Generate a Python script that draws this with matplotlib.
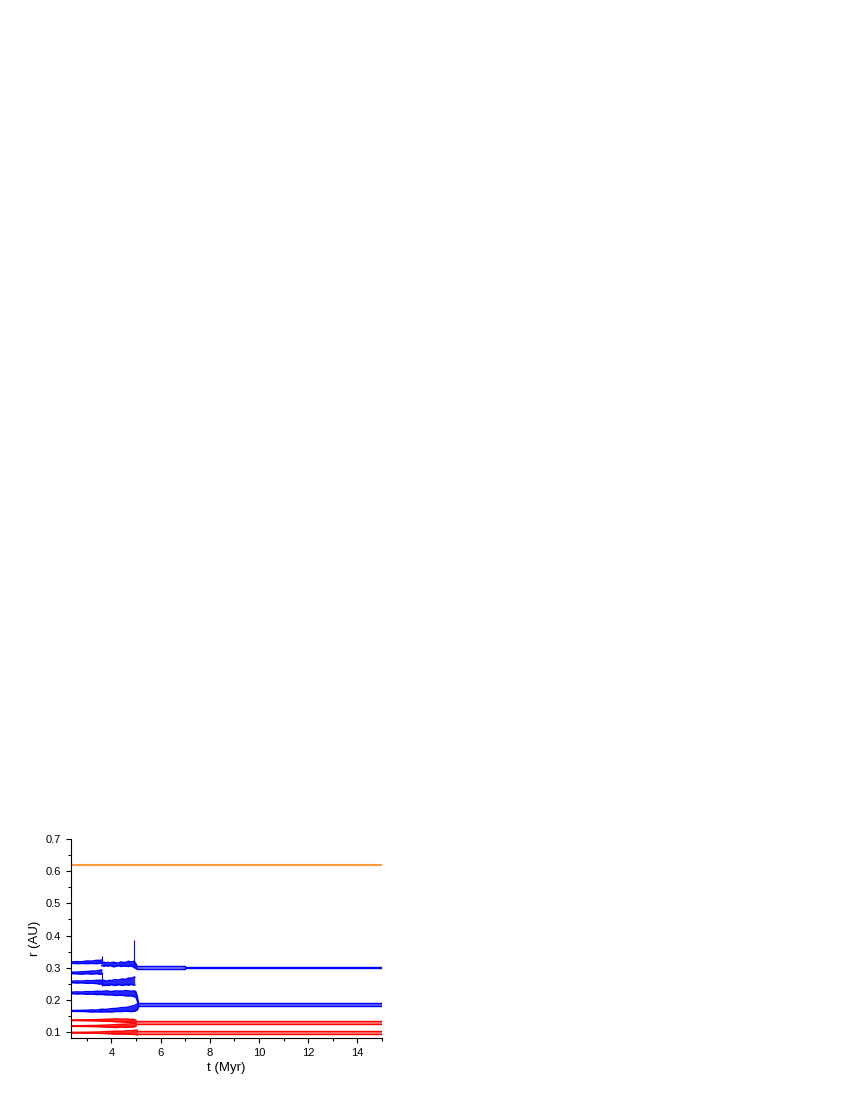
import matplotlib
matplotlib.use("Agg")
from matplotlib import pyplot as plt
from matplotlib.ticker import MultipleLocator

plt.rcParams['font.family'] = ['Liberation Sans', 'DejaVu Sans']

# orbit bands: times (Myr), centre radius (AU), half width of the band (AU)
orange_t = [2.35, 15.0]
orange_r = [0.621, 0.621]
orange_w = [0.001, 0.001]

blue1_t = [2.35, 2.6, 2.8, 3.0, 3.2, 3.4, 3.5, 3.61]
blue1_r = [0.316, 0.316, 0.316, 0.317, 0.317, 0.318, 0.318, 0.319]
blue1_w = [0.002, 0.003, 0.0025, 0.004, 0.0035, 0.005, 0.0045, 0.005]

blue1b_t = [3.61, 3.7, 3.8, 3.85, 3.9, 4.0, 4.1, 4.2, 4.3, 4.4, 4.5, 4.6,
            4.7, 4.8, 4.88, 4.93, 5.0, 5.05]
blue1b_r = [0.312, 0.311, 0.311, 0.311, 0.311, 0.311, 0.310, 0.310, 0.311,
            0.311, 0.311, 0.311, 0.312, 0.312, 0.311, 0.311, 0.305, 0.300]
blue1b_w = [0.005, 0.006, 0.004, 0.006, 0.004, 0.005, 0.007, 0.005, 0.004,
            0.007, 0.005, 0.006, 0.008, 0.006, 0.008, 0.009, 0.007, 0.004]

blue2_t = [2.35, 2.6, 2.8, 3.0, 3.2, 3.4, 3.5, 3.61]
blue2_r = [0.284, 0.284, 0.284, 0.285, 0.285, 0.286, 0.286, 0.287]
blue2_w = [0.002, 0.0025, 0.0035, 0.003, 0.0045, 0.004, 0.0055, 0.006]

blue3_t = [2.35, 2.6, 2.8, 3.0, 3.2, 3.4, 3.6, 3.7, 3.8, 3.9, 4.0, 4.15,
           4.3, 4.45, 4.6, 4.7, 4.8, 4.9, 4.95]
blue3_r = [0.256, 0.256, 0.256, 0.256, 0.256, 0.256, 0.255, 0.253, 0.252,
           0.253, 0.254, 0.254, 0.255, 0.255, 0.256, 0.257, 0.258, 0.258, 0.259]
blue3_w = [0.002, 0.003, 0.0025, 0.004, 0.0035, 0.005, 0.006, 0.008, 0.006,
           0.008, 0.006, 0.009, 0.007, 0.010, 0.008, 0.011, 0.009, 0.012, 0.012]

blue4_t = [2.35, 2.6, 2.8, 3.0, 3.2, 3.4, 3.6, 3.8, 4.0, 4.2, 4.4, 4.6,
           4.8, 4.95, 5.0, 5.05, 5.1]
blue4_r = [0.222, 0.222, 0.222, 0.222, 0.222, 0.222, 0.222, 0.222, 0.221,
           0.221, 0.221, 0.221, 0.220, 0.219, 0.217, 0.205, 0.188]
blue4_w = [0.002, 0.003, 0.0025, 0.004, 0.0035, 0.005, 0.0045, 0.006, 0.005,
           0.007, 0.006, 0.008, 0.007, 0.009, 0.008, 0.006, 0.004]

blue5_t = [2.35, 2.7, 3.0, 3.2, 3.4, 3.6, 3.8, 4.0, 4.2, 4.4, 4.6, 4.8,
           4.95, 5.05, 5.1]
blue5_r = [0.166, 0.166, 0.166, 0.166, 0.166, 0.167, 0.167, 0.168, 0.169,
           0.170, 0.171, 0.172, 0.174, 0.178, 0.183]
blue5_w = [0.0012, 0.0015, 0.002, 0.003, 0.0025, 0.004, 0.0035, 0.005, 0.0045,
           0.006, 0.0055, 0.008, 0.009, 0.009, 0.006]

blue_out_t = [5.05, 7.0, 7.0, 15.0]
blue_out_r = [0.3005, 0.3005, 0.3005, 0.3005]
blue_out_w = [0.0035, 0.0035, 0.002, 0.002]

blue_in_t = [5.1, 15.0]
blue_in_r = [0.1855, 0.1855]
blue_in_w = [0.005, 0.005]

red1_t = [2.35, 3.0, 3.5, 3.8, 4.0, 4.2, 4.4, 4.6, 4.8, 4.9, 5.0]
red1_r = [0.137, 0.137, 0.137, 0.137, 0.137, 0.137, 0.136, 0.136, 0.135,
          0.135, 0.133]
red1_w = [0.0008, 0.0012, 0.002, 0.003, 0.0035, 0.0045, 0.004, 0.005, 0.0045,
          0.005, 0.004]

red2_t = [2.35, 3.0, 3.5, 3.8, 4.0, 4.2, 4.4, 4.6, 4.8, 4.9, 5.0]
red2_r = [0.119, 0.119, 0.119, 0.119, 0.119, 0.119, 0.120, 0.120, 0.121,
          0.122, 0.124]
red2_w = [0.0008, 0.0012, 0.002, 0.003, 0.0035, 0.0045, 0.004, 0.005, 0.0045,
          0.006, 0.005]

red3_t = [2.35, 3.0, 3.5, 3.8, 4.0, 4.2, 4.4, 4.6, 4.8, 4.9, 5.05]
red3_r = [0.0985, 0.0985, 0.0985, 0.0985, 0.0985, 0.0985, 0.0985, 0.099,
          0.099, 0.099, 0.099]
red3_w = [0.0008, 0.0012, 0.002, 0.003, 0.0035, 0.0045, 0.004, 0.005, 0.0055,
          0.006, 0.007]

red_out1_t = [5.0, 15.0]
red_out1_r = [0.130, 0.130]
red_out1_w = [0.005, 0.005]

red_out2_t = [5.05, 15.0]
red_out2_r = [0.099, 0.099]
red_out2_w = [0.0048, 0.0048]

# jumps / spikes: t, r from, r to
spikes_t = [3.61, 3.61, 4.93]
spikes_r0 = [0.319, 0.287, 0.300]
spikes_r1 = [0.337, 0.242, 0.387]

xticks = [4, 6, 8, 10, 12, 14]
yticks = [0.1, 0.2, 0.3, 0.4, 0.5, 0.6, 0.7]

BLUE = '#0000ff'
RED = '#ff0000'
ORANGE = '#ff9a3c'


def band(ax, t, r, w, color, alpha=0.55, lw=1.0):
    lo = [a - b for a, b in zip(r, w)]
    hi = [a + b for a, b in zip(r, w)]
    ax.fill_between(t, lo, hi, color=color, alpha=alpha, lw=0)
    ax.plot(t, lo, color=color, lw=lw)
    ax.plot(t, hi, color=color, lw=lw)


fig = plt.figure(figsize=(8.5, 11), dpi=100)
ax = fig.add_axes([0.0832, 0.0564, 0.3662, 0.1809])

band(ax, orange_t, orange_r, orange_w, ORANGE, 0.8, 0.8)

for t, r, w in [(blue1_t, blue1_r, blue1_w), (blue1b_t, blue1b_r, blue1b_w),
                (blue2_t, blue2_r, blue2_w), (blue3_t, blue3_r, blue3_w),
                (blue4_t, blue4_r, blue4_w), (blue5_t, blue5_r, blue5_w)]:
    band(ax, t, r, w, BLUE, 0.85, 1.1)
band(ax, blue_out_t, blue_out_r, blue_out_w, BLUE, 0.5, 1.0)
band(ax, blue_in_t, blue_in_r, blue_in_w, BLUE, 0.6, 1.0)

for t, r, w in [(red1_t, red1_r, red1_w), (red2_t, red2_r, red2_w),
                (red3_t, red3_r, red3_w)]:
    band(ax, t, r, w, RED, 0.85, 1.1)
band(ax, red_out1_t, red_out1_r, red_out1_w, RED, 0.5, 1.0)
band(ax, red_out2_t, red_out2_r, red_out2_w, RED, 0.5, 1.0)

ax.vlines(spikes_t, spikes_r0, spikes_r1, color=BLUE, lw=0.8)

ax.set_xlim(2.35, 15.0)
ax.set_ylim(0.082, 0.7)
ax.set_xticks(xticks)
ax.set_yticks(yticks)
ax.xaxis.set_minor_locator(MultipleLocator(1))
ax.yaxis.set_minor_locator(MultipleLocator(0.05))
ax.tick_params(which='major', direction='out', length=3.5, width=0.8, labelsize=8)
ax.tick_params(which='minor', direction='out', length=2, width=0.8)
for s in ['top', 'right']:
    ax.spines[s].set_visible(False)
ax.spines['left'].set_linewidth(0.8)
ax.spines['bottom'].set_linewidth(0.8)

ax.set_xlabel('t (Myr)', fontsize=9.5, labelpad=3)
ax.set_ylabel('r (AU)', fontsize=9.5, labelpad=3)

fig.savefig('out.png', dpi=100)
